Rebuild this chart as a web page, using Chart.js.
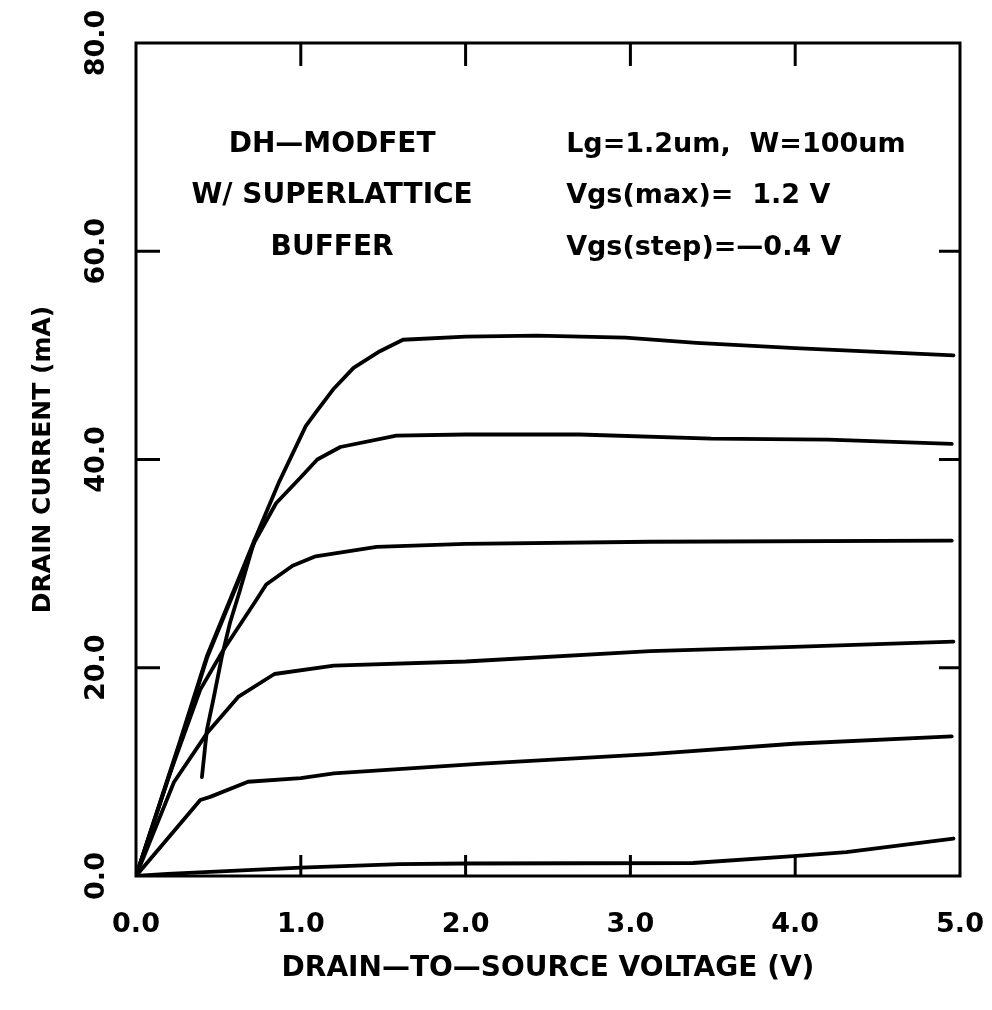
<!DOCTYPE html>
<html>
<head>
<meta charset="utf-8">
<script src="https://cdn.jsdelivr.net/npm/chart.js@4.4.0/dist/chart.umd.min.js"></script>
<style>
  html, body { margin: 0; padding: 0; background: #fff; }
  #wrap { width: 992px; height: 1010px; }
</style>
</head>
<body>
<div id="wrap"><canvas id="graphique"></canvas></div>
<script>
// Vgs steps, from 1.2 V down by -0.4 V
const vgsLabels = ["1.2", "0.8", "0.4", "0.0", "-0.4", "-0.8"];
const vdsTicks = [0, 1, 2, 3, 4, 5];
const idTicks = [0, 20, 40, 60, 80];
const innerTicksX = [1, 2, 3, 4];
const innerTicksY = [20, 40, 60];

// Vds in V, Id in mA
const vds1 = [0, 0.27, 0.43, 0.57, 0.72, 0.87, 1.03, 1.09, 1.2, 1.32, 1.48, 1.62, 2.0, 2.43, 2.97, 3.4, 4.0, 4.96];
const id1 = [0, 13.1, 21.1, 26.5, 32.3, 37.9, 43.2, 44.5, 46.8, 48.8, 50.4, 51.5, 51.8, 51.9, 51.7, 51.2, 50.7, 50.0];

const vds2 = [0, 0.27, 0.43, 0.57, 0.72, 0.85, 1.0, 1.1, 1.24, 1.58, 2.0, 2.69, 3.49, 4.2, 4.95];
const id2 = [0, 12.9, 20.9, 26.3, 32.1, 35.8, 38.3, 40.0, 41.2, 42.3, 42.4, 42.4, 42.0, 41.9, 41.5];

const vds3 = [0, 0.2, 0.39, 0.53, 0.73, 0.79, 0.95, 1.09, 1.46, 2.0, 3.12, 4.95];
const id3 = [0, 9.6, 17.9, 21.7, 26.5, 28.0, 29.8, 30.7, 31.6, 31.9, 32.1, 32.2];

const vds4 = [0, 0.23, 0.43, 0.62, 0.84, 1.2, 2.0, 3.12, 3.99, 4.96];
const id4 = [0, 9.0, 13.7, 17.2, 19.4, 20.2, 20.6, 21.6, 22.0, 22.5];

const vds5 = [0, 0.39, 0.45, 0.68, 1.0, 1.2, 2.1, 3.12, 3.99, 4.95];
const id5 = [0, 7.3, 7.6, 9.05, 9.4, 9.85, 10.8, 11.7, 12.7, 13.4];

const vds6 = [0, 0.19, 1.0, 1.6, 2.0, 3.38, 3.99, 4.31, 4.96];
const id6 = [0, 0.2, 0.8, 1.15, 1.2, 1.25, 1.9, 2.3, 3.6];

// the short steep stroke near Vds=0.4 V
const vdsTrait = [0.40, 0.43, 0.47, 0.52, 0.57, 0.63, 0.72];
const idTrait = [9.5, 14.0, 17.0, 21.0, 24.3, 27.4, 32.3];

const notesGauche = ["DH\u2014MODFET", "W/ SUPERLATTICE", "BUFFER"];
const notesDroite = ["Lg=1.2um,  W=100um", "Vgs(max)=  1.2 V", "Vgs(step)=\u20140.4 V"];
const notesY = [70.2, 65.3, 60.3];

const police = "'DejaVu Sans', sans-serif";

const courbes = [
	[vds1, id1], [vds2, id2], [vds3, id3], [vds4, id4], [vds5, id5], [vds6, id6], [vdsTrait, idTrait]
];

const datasets = courbes.map(([xs, ys], i) => ({
	label: i < vgsLabels.length ? `Vgs=${vgsLabels[i]} V` : "",
	data: xs.map((x, k) => ({ x: x, y: ys[k] })),
	borderColor: "#000",
	borderWidth: 3.8,
	borderJoinStyle: "round",
	borderCapStyle: "round",
	pointRadius: 0,
	showLine: true,
	tension: 0,
	fill: false,
}));

// cadre + graduations vers l'interieur + textes
const cadre = {
	id: "cadre",
	afterDraw(chart) {
		const { ctx, chartArea: a, scales } = chart;
		ctx.save();
		ctx.strokeStyle = "#000";
		ctx.lineWidth = 3;
		ctx.strokeRect(a.left, a.top, a.right - a.left, a.bottom - a.top);
		for (let v of innerTicksX) {
			const px = scales.x.getPixelForValue(v);
			ctx.beginPath();
			ctx.moveTo(px, a.bottom);
			ctx.lineTo(px, a.bottom - 21);
			ctx.moveTo(px, a.top);
			ctx.lineTo(px, a.top + 23);
			ctx.stroke();
		}
		for (let v of innerTicksY) {
			const py = scales.y.getPixelForValue(v);
			ctx.beginPath();
			ctx.moveTo(a.left, py);
			ctx.lineTo(a.left + 24, py);
			ctx.moveTo(a.right, py);
			ctx.lineTo(a.right - 21, py);
			ctx.stroke();
		}
		ctx.fillStyle = "#000";
		ctx.textBaseline = "middle";
		for (let i = 0; i < notesY.length; i++) {
			const py = scales.y.getPixelForValue(notesY[i]);
			ctx.font = `bold 28px ${police}`;
			ctx.textAlign = "center";
			ctx.fillText(notesGauche[i], scales.x.getPixelForValue(1.19), py);
			ctx.font = `bold 27px ${police}`;
			ctx.textAlign = "left";
			ctx.fillText(notesDroite[i], scales.x.getPixelForValue(2.61), py);
		}
		ctx.restore();
	},
};

const config = {
	type: "scatter",
	data: { datasets: datasets },
	options: {
		responsive: true,
		maintainAspectRatio: false,
		animation: false,
		layout: { padding: { top: 43, right: 0, left: 0, bottom: 0 } },
		plugins: { legend: { display: false }, tooltip: { enabled: false } },
		scales: {
			x: {
				type: "linear",
				min: 0,
				max: 5,
				afterBuildTicks: (s) => { s.ticks = vdsTicks.map((v) => ({ value: v })); },
				ticks: {
					callback: (v) => v.toFixed(1),
					color: "#000",
					font: { family: police, size: 27, weight: "bold" },
					padding: 33,
					maxRotation: 0,
				},
				grid: { display: false, drawTicks: false },
				border: { display: false },
				title: {
					display: true,
					text: "DRAIN\u2014TO\u2014SOURCE VOLTAGE (V)",
					color: "#000",
					font: { family: police, size: 28, weight: "bold" },
					padding: { top: 0, bottom: 24 },
				},
				afterFit: (s) => {
					s.height = 134;
					s.paddingLeft = 0;
					s.paddingRight = 32;
				},
			},
			y: {
				type: "linear",
				min: 0,
				max: 80,
				afterBuildTicks: (s) => { s.ticks = idTicks.map((v) => ({ value: v })); },
				ticks: {
					callback: (v) => v.toFixed(1),
					color: "#000",
					font: { family: police, size: 27, weight: "bold" },
					padding: 6,
					minRotation: 90,
					maxRotation: 90,
					crossAlign: "center",
				},
				grid: { display: false, drawTicks: false },
				border: { display: false },
				title: {
					display: true,
					text: "DRAIN CURRENT (mA)",
					color: "#000",
					font: { family: police, size: 25, weight: "bold" },
					padding: { top: 28, bottom: 0 },
				},
				afterFit: (s) => {
					s.width = 136;
					s.paddingTop = 0;
					s.paddingBottom = 0;
				},
			},
		},
	},
	plugins: [cadre],
};

const graphique = new Chart(document.querySelector("#graphique"), config);
</script>
</body>
</html>
